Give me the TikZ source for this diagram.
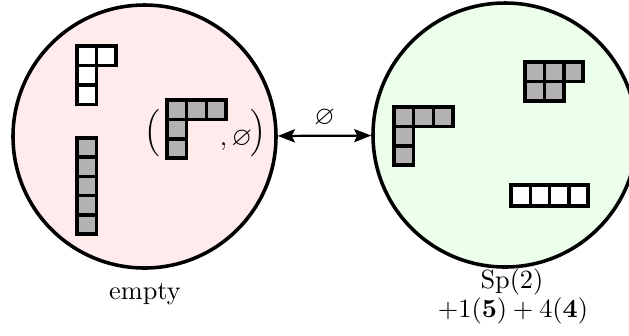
\documentclass[tikz,border=0pt]{standalone}
\usepackage{amssymb}
\usetikzlibrary{arrows.meta}
\begin{document}
\begin{tikzpicture}[x=0.38pt,y=-0.38pt,
  blob/.style={circle,draw=black,line width=1.35pt,inner sep=0pt},
  wcell/.style={draw=black,line width=1.35pt,fill=white},
  gcell/.style={draw=black,line width=1.35pt,fill=gray!60},
  conn/.style={line width=0.85pt,{Stealth[length=6.5pt,width=5pt,inset=1.2pt]}-{Stealth[length=6.5pt,width=5pt,inset=1.2pt]}},
  lbl/.style={inner sep=1pt}]
\clip (0,0) rectangle (629,335);
\useasboundingbox (0,0) rectangle (629,335);
% circles
\node[blob,fill=red!8,minimum size={263*0.38pt}] (L) at (144.5,136.5) {};
\node[blob,fill=green!8,minimum size={264*0.38pt}] (R) at (505,135) {};
% left circle: white shape
\def\c{19.5}
\foreach \i/\j in {0/0,1/0,0/1,0/2}
  \draw[wcell] ({77+\i*\c},{46+\j*\c}) rectangle ++(\c,\c);
% left circle: gray column
\foreach \j in {0,...,4}
  \draw[gcell] (77,{138+\j*19.2}) rectangle ++(19.5,19.2);
% left circle: hook in parentheses
\foreach \i/\j in {0/0,1/0,2/0,0/1,0/2}
  \draw[gcell] ({167+\i*19.7},{100+\j*19.4}) rectangle ++(19.7,19.4);
\node[lbl] (lp) at (152.5,133) {$\Big($};
\node[lbl] (rp) at (258,133) {$\Big)$};
\node[lbl,anchor=base] (ce) at (236,145) {$,\varnothing$};
% right circle: hook
\foreach \i/\j in {0/0,1/0,2/0,0/1,0/2}
  \draw[gcell] ({394+\i*19.7},{107+\j*19.4}) rectangle ++(19.7,19.4);
% right circle: 3+2 shape
\foreach \i/\j in {0/0,1/0,2/0,0/1,1/1}
  \draw[gcell] ({525+\i*19.4},{62+\j*19.5}) rectangle ++(19.4,19.5);
% right circle: row of four
\foreach \i in {0,...,3}
  \draw[wcell] ({511+\i*19.3},185) rectangle ++(19.3,21);
% connector
\draw[conn] (L) -- node[above=2pt,lbl] (el) {$\varnothing$} (R);
% labels
\node[lbl] (t1) at (145,294) {empty};
\node[lbl] (t2) at (512,282) {$\mathrm{Sp}(2)$};
\node[lbl] (t3) at (513,311) {$+1(\mathbf{5})+4(\mathbf{4})$};
\end{tikzpicture}
\end{document}
